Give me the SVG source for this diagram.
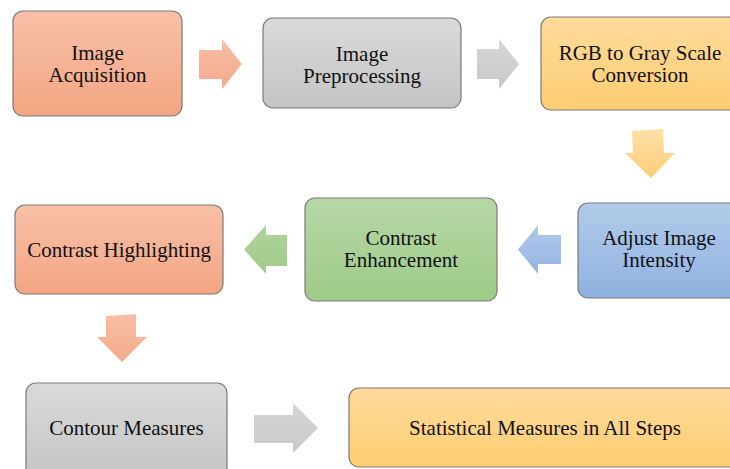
<svg xmlns="http://www.w3.org/2000/svg" width="730" height="469" viewBox="0 0 730 469">
<defs>
<linearGradient id="gSal" x1="0" y1="0" x2="0" y2="1"><stop offset="0" stop-color="#f7c0a8"/><stop offset="1" stop-color="#f4a583"/></linearGradient>
<linearGradient id="gGray" x1="0" y1="0" x2="0" y2="1"><stop offset="0" stop-color="#dadada"/><stop offset="1" stop-color="#c4c4c4"/></linearGradient>
<linearGradient id="gYel" x1="0" y1="0" x2="0" y2="1"><stop offset="0" stop-color="#fedb9c"/><stop offset="1" stop-color="#fdcd72"/></linearGradient>
<linearGradient id="gGrn" x1="0" y1="0" x2="0" y2="1"><stop offset="0" stop-color="#b6d7a6"/><stop offset="1" stop-color="#9ecb87"/></linearGradient>
<linearGradient id="gBlu" x1="0" y1="0" x2="0" y2="1"><stop offset="0" stop-color="#b3cbea"/><stop offset="1" stop-color="#8fb1e0"/></linearGradient>
<linearGradient id="aSal" x1="0" y1="0" x2="0" y2="1"><stop offset="0" stop-color="#f7bfa6"/><stop offset="1" stop-color="#f5a98a"/></linearGradient>
<linearGradient id="aGray" x1="0" y1="0" x2="0" y2="1"><stop offset="0" stop-color="#d6d6d6"/><stop offset="1" stop-color="#c9c9c9"/></linearGradient>
<linearGradient id="aYel" x1="0" y1="0" x2="0" y2="1"><stop offset="0" stop-color="#fee0a6"/><stop offset="1" stop-color="#fdce77"/></linearGradient>
<linearGradient id="aGrn" x1="0" y1="0" x2="0" y2="1"><stop offset="0" stop-color="#b0d39e"/><stop offset="1" stop-color="#a0ca8a"/></linearGradient>
<linearGradient id="aBlu" x1="0" y1="0" x2="0" y2="1"><stop offset="0" stop-color="#b0c9ea"/><stop offset="1" stop-color="#94b4e2"/></linearGradient>
</defs>
<style>
.box{stroke:#7a7a7a;stroke-width:1.2}
text{font-family:"Liberation Serif","Times New Roman",serif;font-size:21px;fill:#111;text-anchor:middle}
</style>
<rect width="730" height="469" fill="#fff"/>
<g id="connectors">
<polygon points="199,50 222,50 222,39 242,64 222,89 222,79 199,79" fill="url(#aSal)"/>
<polygon points="477,49 499,49 499,39 519,64 499,89 499,79 477,79" fill="url(#aGray)"/>
<polygon points="632,131 663,129 664,153 675,153 651,178 625,153 633,153" fill="url(#aYel)"/>
<polygon points="561,235 538,235 538,225 518,249.5 538,274 538,264 561,264" fill="url(#aBlu)"/>
<polygon points="287,235 266,235 266,225 244,249.5 266,274 266,266 287,266" fill="url(#aGrn)"/>
<polygon points="106,316 136,314 136,337 147,337 122,362 97,337 106,337" fill="url(#aSal)"/>
<polygon points="254,415 293,415 293,403 318,428 293,453 293,443 254,443" fill="url(#aGray)"/>
</g>
<g id="n1"><rect class="box" x="13" y="11" width="169" height="105" rx="10" fill="url(#gSal)"/><text x="97.5" y="60">Image</text><text x="97.5" y="82">Acquisition</text></g>
<g id="n2"><rect class="box" x="263" y="18" width="198" height="90" rx="10" fill="url(#gGray)"/><text x="362" y="61">Image</text><text x="362" y="83">Preprocessing</text></g>
<g id="n3"><rect class="box" x="541" y="17" width="198" height="93" rx="10" fill="url(#gYel)"/><text x="640" y="60">RGB to Gray Scale</text><text x="640" y="82">Conversion</text></g>
<g id="n4"><rect class="box" x="578" y="203" width="162" height="95" rx="10" fill="url(#gBlu)"/><text x="659" y="245">Adjust Image</text><text x="659" y="267">Intensity</text></g>
<g id="n5"><rect class="box" x="305" y="198" width="192" height="103" rx="10" fill="url(#gGrn)"/><text x="401" y="245">Contrast</text><text x="401" y="267">Enhancement</text></g>
<g id="n6"><rect class="box" x="15" y="205" width="208" height="89" rx="10" fill="url(#gSal)"/><text x="119" y="256.5">Contrast Highlighting</text></g>
<g id="n7"><rect class="box" x="26" y="383" width="201" height="100" rx="10" fill="url(#gGray)"/><text x="126.5" y="435">Contour Measures</text></g>
<g id="n8"><rect class="box" x="349" y="388" width="392" height="79" rx="10" fill="url(#gYel)"/><text x="545" y="435">Statistical Measures in All Steps</text></g>
</svg>
